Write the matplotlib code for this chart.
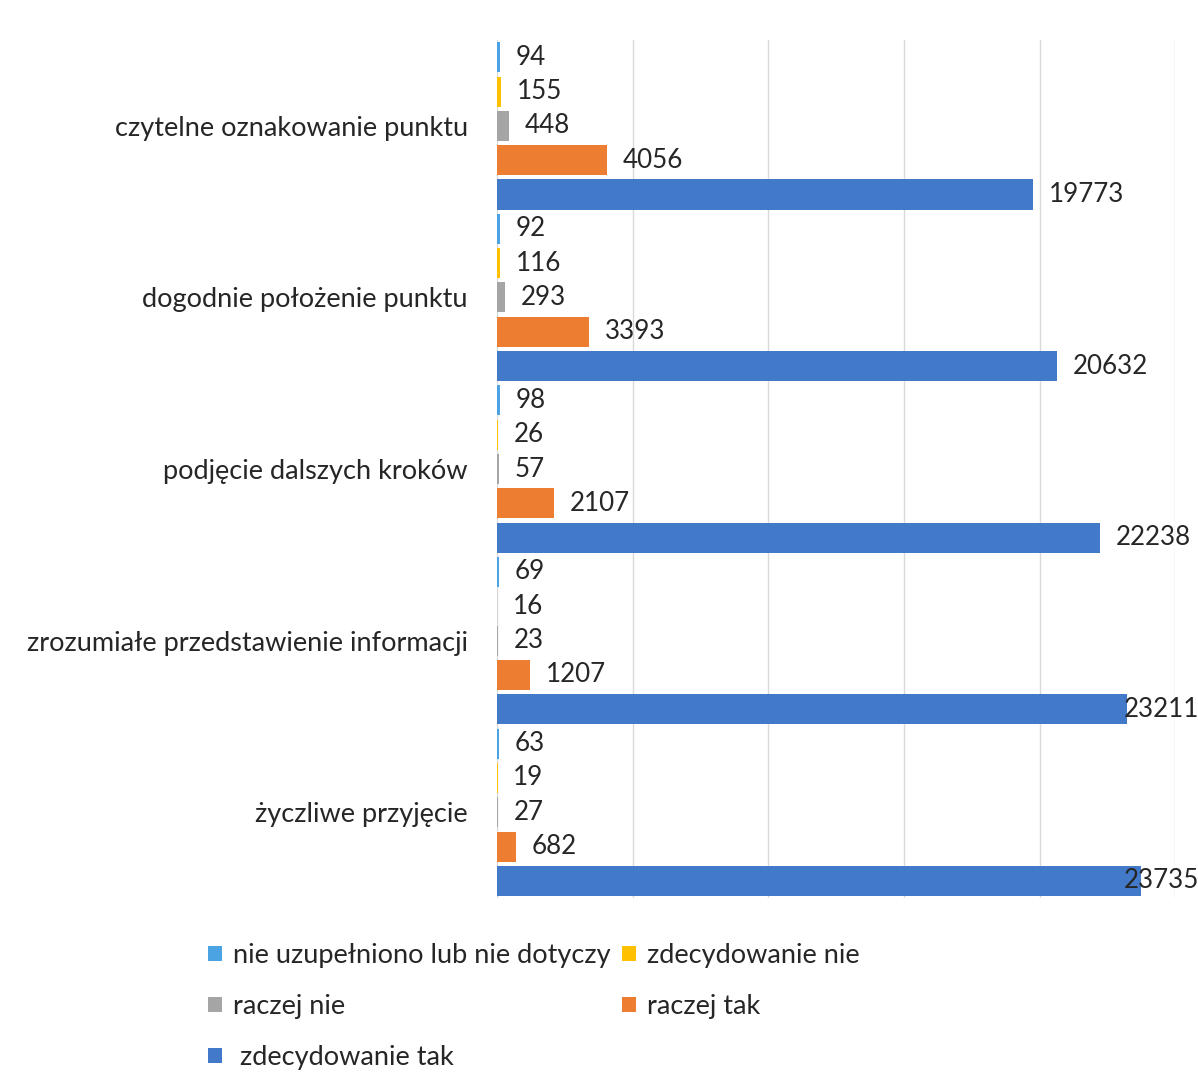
import numpy as np
import matplotlib.pyplot as plt
from matplotlib.patches import Patch

plt.rcParams['font.family'] = ['Lato', 'DejaVu Sans']

# data
categories = ['czytelne oznakowanie punktu', 'dogodnie położenie punktu',
              'podjęcie dalszych kroków', 'zrozumiałe przedstawienie informacji',
              'życzliwe przyjęcie']
series = ['nie uzupełniono lub nie dotyczy', 'zdecydowanie nie', 'raczej nie',
          'raczej tak', 'zdecydowanie tak']
nie_uzupelniono = [94, 92, 98, 69, 63]
zdecydowanie_nie = [155, 116, 26, 16, 19]
raczej_nie = [448, 293, 57, 23, 27]
raczej_tak = [4056, 3393, 2107, 1207, 682]
zdecydowanie_tak = [19773, 20632, 22238, 23211, 23735]

values = [nie_uzupelniono, zdecydowanie_nie, raczej_nie, raczej_tak, zdecydowanie_tak]
colors = ['#4BA3E3', '#FFC000', '#A5A5A5', '#ED7D31', '#4279C8']
text_color = '#262626'

fig = plt.figure(figsize=(11.98, 10.86), dpi=100)
ax = fig.add_axes([0.4149, 0.1731, 0.566, 0.790])

y = np.arange(len(categories))
slot = 0.2
for j, (vals, col) in enumerate(zip(values, colors)):
    pos = y + (j - 2) * slot
    ax.barh(pos, vals, height=slot * 0.875, color=col, zorder=2)
    for p, v in zip(pos, vals):
        # labels near the right edge get pushed back inside the chart
        ax.text(min(v + 580, 23100), p, str(v), ha='left', va='center',
                fontsize=18.7, color=text_color, zorder=3)

ax.set_xlim(0, 25000)
ax.set_ylim(len(categories) - 0.5, -0.5)
ax.set_xticks(np.arange(0, 25001, 5000))
ax.set_xticklabels([])
ax.tick_params(axis='both', length=0)
ax.set_yticks(y)
ax.set_yticklabels(categories, fontsize=19.5, color=text_color)
ax.tick_params(axis='y', pad=21)
ax.grid(True, axis='x', color='#d9d9d9', linewidth=1, zorder=0)
for s in ax.spines.values():
    s.set_visible(False)

# legend: row-wise order needs column-major list
handles = [Patch(facecolor=c) for c in colors]
labels = list(series)
labels[4] = ' ' + labels[4]
order = [0, 2, 4, 1, 3]
fig.legend([handles[i] for i in order], [labels[i] for i in order],
           loc='upper left', bbox_to_anchor=(208 / 1198, 1 - 943 / 1086),
           ncol=2, frameon=False, fontsize=19.5, labelcolor=text_color,
           handlelength=0.52, handleheight=0.52, handletextpad=0.42,
           columnspacing=0.4, labelspacing=0.96, borderpad=0, borderaxespad=0)

fig.savefig('out.png', dpi=100)
